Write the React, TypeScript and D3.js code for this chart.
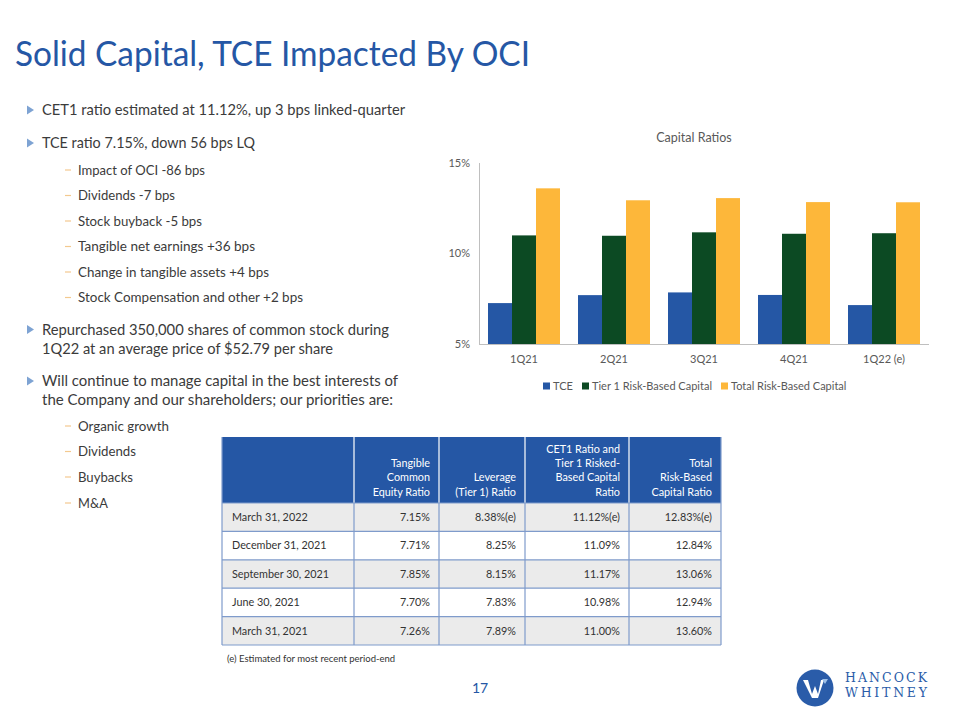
import React from 'react';
import * as d3 from 'd3';

// ---------- data ----------
const quarters = ['1Q21', '2Q21', '3Q21', '4Q21', '1Q22 (e)'];
const seriesNames = ['TCE', 'Tier 1 Risk-Based Capital', 'Total Risk-Based Capital'];
const tceValues = [7.26, 7.7, 7.85, 7.71, 7.15];
const tier1Values = [11.0, 10.98, 11.17, 11.09, 11.12];
const totalValues = [13.6, 12.94, 13.06, 12.84, 12.83];
const yTicks = [5, 10, 15];

const tableDates = ['March 31, 2022', 'December 31, 2021', 'September 30, 2021', 'June 30, 2021', 'March 31, 2021'];
const tableTce = ['7.15%', '7.71%', '7.85%', '7.70%', '7.26%'];
const tableLeverage = ['8.38%(e)', '8.25%', '8.15%', '7.83%', '7.89%'];
const tableCet1 = ['11.12%(e)', '11.09%', '11.17%', '10.98%', '11.00%'];
const tableTotal = ['12.83%(e)', '12.84%', '13.06%', '12.94%', '13.60%'];
const tableHeaders = [
  [],
  ['Tangible', 'Common', 'Equity Ratio'],
  ['Leverage', '(Tier 1) Ratio'],
  ['CET1 Ratio and', 'Tier 1 Risked-', 'Based Capital', 'Ratio'],
  ['Total', 'Risk-Based', 'Capital Ratio'],
];

const bulletLines = [
  { level: 1, text: 'CET1 ratio estimated at 11.12%, up 3 bps linked-quarter', y: 110, w: 363, mark: true },
  { level: 1, text: 'TCE ratio 7.15%, down 56 bps LQ', y: 143, w: 213, mark: true },
  { level: 2, text: 'Impact of OCI -86 bps', y: 170, w: 127 },
  { level: 2, text: 'Dividends -7 bps', y: 195.5, w: 97 },
  { level: 2, text: 'Stock buyback -5 bps', y: 221, w: 124 },
  { level: 2, text: 'Tangible net earnings +36 bps', y: 246.5, w: 177 },
  { level: 2, text: 'Change in tangible assets +4 bps', y: 272, w: 191 },
  { level: 2, text: 'Stock Compensation and other +2 bps', y: 297.5, w: 225 },
  { level: 1, text: 'Repurchased 350,000 shares of common stock during', y: 329.5, w: 347, mark: true },
  { level: 1, text: '1Q22 at an average price of $52.79 per share', y: 348.5, w: 291 },
  { level: 1, text: 'Will continue to manage capital in the best interests of', y: 381, w: 356, mark: true },
  { level: 1, text: 'the Company and our shareholders; our priorities are:', y: 399.5, w: 351 },
  { level: 2, text: 'Organic growth', y: 426, w: 91 },
  { level: 2, text: 'Dividends', y: 451.5, w: 58 },
  { level: 2, text: 'Buybacks', y: 477, w: 55 },
  { level: 2, text: 'M&A', y: 503, w: 30 },
];

// ---------- styles ----------
const FONT = 'Lato, "Open Sans", "DejaVu Sans", sans-serif';
const BLUE = '#2557a5';
const GREEN = '#0c4a23';
const ORANGE = '#fdb73a';
const GRAY_TXT = '#595959';
const colors = [BLUE, GREEN, ORANGE];

export default function App() {
  // chart scales
  const x0 = d3.scaleBand<string>().domain(quarters).range([479, 929]).paddingInner(0.2).paddingOuter(0.1);
  const x1 = d3.scaleBand<string>().domain(seriesNames).range([0, x0.bandwidth()]);
  const y = d3.scaleLinear().domain([5, 15]).range([344, 163]);
  const seriesValues = [tceValues, tier1Values, totalValues];

  // table geometry
  const colEdges = [222, 354, 439, 525, 629, 721];
  const headerTop = 437;
  const headerBottom = 503;
  const rowScale = d3.scaleBand<number>().domain(d3.range(tableDates.length)).range([headerBottom, 645]);
  const tableCols = [tableDates, tableTce, tableLeverage, tableCet1, tableTotal];

  const legendItems = [
    { x: 543, label: seriesNames[0] },
    { x: 582, label: seriesNames[1] },
    { x: 721, label: seriesNames[2] },
  ];

  return (
    <svg
      width={960}
      height={720}
      style={{ position: 'absolute', left: 0, top: 0, background: '#fff' }}
      fontFamily={FONT}
    >
      <rect width={960} height={720} fill="#fff" />
      {/* Title */}
      <text x={15} y={66} fontSize={35} fill={BLUE} textLength={515} lengthAdjust="spacingAndGlyphs">
        Solid Capital, TCE Impacted By OCI
      </text>

      {/* Bullets */}
      {bulletLines.map((b, i) => (
        <g key={i}>
          {b.level === 1 && b.mark && (
            <path d={`M27,${b.y - 4.5} L34,${b.y} L27,${b.y + 4.5} Z`} fill="#7ea3d3" />
          )}
          {b.level === 2 && (
            <line x1={65} x2={71} y1={b.y} y2={b.y} stroke="#f3c98f" strokeWidth={1.2} />
          )}
          <text
            x={b.level === 1 ? 42 : 78}
            y={b.y}
            dy="0.35em"
            fontSize={b.level === 1 ? 15 : 13.5}
            fill="#3b3b3b"
            textLength={b.w}
            lengthAdjust="spacingAndGlyphs"
          >
            {b.text}
          </text>
        </g>
      ))}

      {/* Chart title */}
      <text x={694} y={138} dy="0.35em" textAnchor="middle" fontSize={12.5} fill={GRAY_TXT}>
        Capital Ratios
      </text>

      {/* Bars */}
      {quarters.map((q, qi) => (
        <g key={q} transform={`translate(${x0(q)},0)`}>
          {seriesNames.map((s, si) => {
            const v = seriesValues[si][qi];
            return (
              <rect
                key={s}
                x={x1(s)}
                y={y(v)}
                width={x1.bandwidth()}
                height={y(5) - y(v)}
                fill={colors[si]}
              />
            );
          })}
        </g>
      ))}

      {/* Axes */}
      <line x1={479.5} x2={479.5} y1={y(15)} y2={y(5)} stroke="#bfbfbf" strokeWidth={1} />
      <line x1={479} x2={929} y1={y(5) + 0.5} y2={y(5) + 0.5} stroke="#bfbfbf" strokeWidth={1} />
      {yTicks.map((t) => (
        <text key={t} x={470} y={y(t)} dy="0.35em" textAnchor="end" fontSize={11} fill={GRAY_TXT}>
          {`${t}%`}
        </text>
      ))}
      {quarters.map((q) => (
        <text
          key={q}
          x={(x0(q) as number) + x0.bandwidth() / 2}
          y={359}
          dy="0.35em"
          textAnchor="middle"
          fontSize={11}
          fill={GRAY_TXT}
        >
          {q}
        </text>
      ))}

      {/* Legend */}
      {legendItems.map((l, i) => (
        <g key={l.label}>
          <rect x={l.x} y={382.5} width={7} height={7} fill={colors[i]} />
          <text x={l.x + 10} y={386} dy="0.35em" fontSize={11} fill={GRAY_TXT}>
            {l.label}
          </text>
        </g>
      ))}

      {/* Table */}
      <rect x={colEdges[0]} y={headerTop} width={colEdges[5] - colEdges[0]} height={headerBottom - headerTop} fill="#2557a5" />
      {colEdges.slice(1, 5).map((cx, i) => (
        <line key={i} x1={cx} x2={cx} y1={headerTop} y2={headerBottom} stroke="#fff" strokeWidth={1.2} />
      ))}
      {tableHeaders.map((lines, ci) =>
        lines.map((ln, li) => (
          <text
            key={`${ci}-${li}`}
            x={colEdges[ci + 1] - 9}
            y={492 - (lines.length - 1 - li) * 14.4}
            dy="0.35em"
            textAnchor="end"
            fontSize={10.8}
            fill="#fff"
          >
            {ln}
          </text>
        ))
      )}
      {tableDates.map((d, ri) => {
        const ry = rowScale(ri) as number;
        const h = rowScale.bandwidth();
        return (
          <g key={d}>
            <rect
              x={colEdges[0]}
              y={ry}
              width={colEdges[5] - colEdges[0]}
              height={h}
              fill={ri % 2 === 0 ? '#ebebeb' : '#ffffff'}
            />
            {tableCols.map((col, ci) => (
              <text
                key={ci}
                x={ci === 0 ? 232 : colEdges[ci + 1] - 9}
                y={ry + h / 2}
                dy="0.35em"
                textAnchor={ci === 0 ? 'start' : 'end'}
                fontSize={10.8}
                fill="#333"
              >
                {col[ri]}
              </text>
            ))}
          </g>
        );
      })}
      {/* table grid lines */}
      {d3.range(tableDates.length + 1).map((i) => {
        const yy = i < tableDates.length ? (rowScale(i) as number) : 645;
        return (
          <line key={`h${i}`} x1={colEdges[0]} x2={colEdges[5]} y1={yy} y2={yy} stroke="#7f9bcb" strokeWidth={1.2} />
        );
      })}
      {colEdges.map((cx, i) => (
        <line
          key={`v${i}`}
          x1={cx}
          x2={cx}
          y1={i === 0 || i === 5 ? headerTop : headerBottom}
          y2={645}
          stroke="#7f9bcb"
          strokeWidth={1.2}
        />
      ))}

      {/* Footnote */}
      <text x={227} y={659} dy="0.35em" fontSize={9.5} fill="#333">
        (e) Estimated for most recent period-end
      </text>

      {/* Page number */}
      <text x={480} y={688} dy="0.35em" textAnchor="middle" fontSize={14} fill={BLUE}>
        17
      </text>

      {/* Logo */}
      <circle cx={815} cy={688} r={18.5} fill="#2a5ca9" />
      <path d="M803,680 L808,680 L812,694 L815,686 L818,694 L821,680 L824,680 L818,698 L812,698 Z" fill="#fff" />
      <path d="M822,679 L828,679 L825,684 Z" fill="#9ec0e8" />
      <text x={845} y={678} dy="0.35em" fontSize={12.5} fill="#2a5ca9" fontFamily='"DejaVu Serif", "Liberation Serif", serif' textLength={82} lengthAdjust="spacing">
        HANCOCK
      </text>
      <text x={845} y={693} dy="0.35em" fontSize={12.5} fill="#2a5ca9" fontFamily='"DejaVu Serif", "Liberation Serif", serif' textLength={82} lengthAdjust="spacing">
        WHITNEY
      </text>
    </svg>
  );
}
